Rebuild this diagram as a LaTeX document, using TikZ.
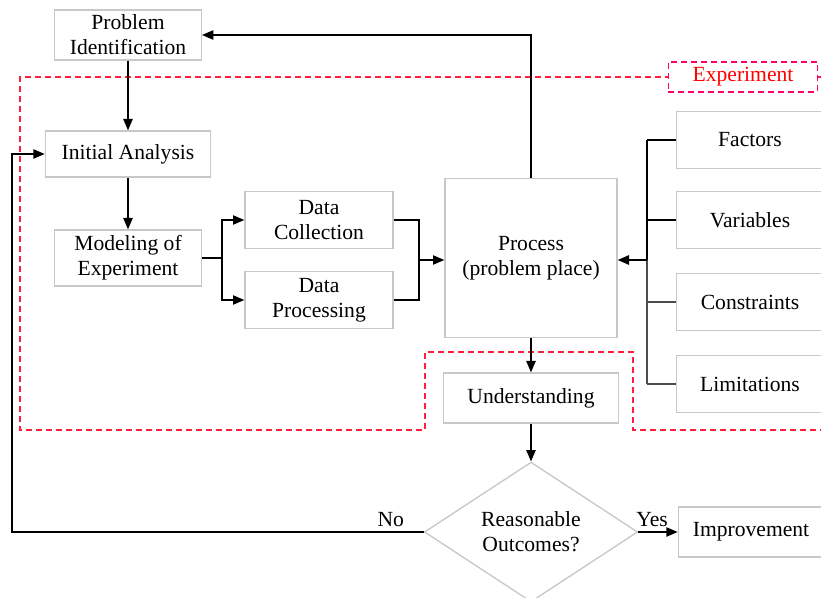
\documentclass[tikz,border=0pt]{standalone}
\usepackage{fontspec}
\setmainfont{Liberation Serif}
\usepackage{xcolor}
\usetikzlibrary{arrows.meta,positioning,shapes.geometric,calc}

\definecolor{boxgray}{RGB}{200,200,200}
\definecolor{expred}{RGB}{255,30,60}
\definecolor{labpink}{RGB}{255,0,110}

\begin{document}
\begin{tikzpicture}[
  x=0.75pt, y=-0.75pt,
  >={Triangle[length=8.5pt,width=7pt]},
  every node/.style={font=\fontsize{16.2}{18.75}\selectfont},
  box/.style={draw=boxgray, line width=1pt, fill=white, align=center, inner sep=2pt},
  decide/.style={diamond, draw=boxgray, line width=1pt, fill=white, align=center,
    minimum width=160pt, minimum height=104pt, inner sep=0pt},
  flow/.style={->, line width=1pt},
  link/.style={line width=1pt},
  frame/.style={expred, line width=0.9pt, dash pattern=on 4.5pt off 3pt},
]
\path[use as bounding box, fill=white] (0,0) rectangle (821,598);

% Experiment boundary
\draw[frame] (821,77) -- (20,77) -- (20,430) -- (425,430) -- (425,352)
  -- (633,352) -- (633,430) -- (821,430);
\node[draw=labpink, fill=white, line width=0.9pt, dash pattern=on 4.5pt off 3pt,
  text=red, minimum width=112pt, minimum height=22.5pt] (explabel) at (743,77) {Experiment};

% Main flow
\node[box, minimum width=110pt, minimum height=37.5pt] (probid) at (128,35) {Problem\\Identification};
\node[box, minimum width=124pt, minimum height=34.5pt] (initial) at (128,154) {Initial Analysis};
\node[box, minimum width=110pt, minimum height=42pt] (modeling) at (128,258) {Modeling of\\Experiment};
\node[box, minimum width=111pt, minimum height=43pt] (datacol) at (319,220) {Data\\Collection};
\node[box, minimum width=111pt, minimum height=43pt] (dataproc) at (319,300) {Data\\Processing};
\node[box, minimum width=129pt, minimum height=119pt] (process) at (531,258) {Process\\(problem place)};
\node[box, minimum width=131pt, minimum height=37.5pt] (underst) at (531,398) {Understanding};
\node[decide] (outcome) at (531,532) {Reasonable\\Outcomes?};
\node[box, minimum width=109pt, minimum height=37.5pt] (improve) at (751,532) {Improvement};

% Inputs to the process
\node[box, minimum width=110pt, minimum height=43pt] (factors) at (750,140) {Factors};
\node[box, minimum width=110pt, minimum height=43pt] (variables) at (750,220) {Variables};
\node[box, minimum width=110pt, minimum height=43pt] (constraints) at (750,302) {Constraints};
\node[box, minimum width=110pt, minimum height=43pt] (limits) at (750,384) {Limitations};

% Junction points
\coordinate (split) at (222,258);
\coordinate (merge) at (419,260);
\coordinate (bus) at (647,260);
\coordinate (loop) at (12,532);

% Connectors
\draw[flow] (probid) -- (initial);
\draw[flow] (initial) -- (modeling);
\draw[link] (modeling.east) -- (split);
\draw[flow] (split) |- (datacol.west);
\draw[flow] (split) |- (dataproc.west);
\draw[link] (datacol.east) -| (merge);
\draw[link] (dataproc.east) -| (merge);
\draw[flow] (merge) -- (merge -| process.west);
\draw[flow] (process.north) |- (probid.east);
\draw[flow] (process) -- (underst);
\draw[flow] (underst) -- (outcome);
\draw[flow] (outcome.east) -- node[above, pos=0.35] {Yes} (improve.west);
\draw[flow] (outcome.west) -- node[above, pos=0.08] {No} (loop) |- (initial.west);

% Right bus
\draw[link] (factors.west) -- (factors.west -| bus);
\draw[link] (variables.west) -- (variables.west -| bus);
\draw[link, black!70] (constraints.west) -- (constraints.west -| bus);
\draw[link, black!70] (limits.west) -- (limits.west -| bus);
\draw[link] (bus |- factors.west) -- (bus);
\draw[link, black!70] (bus) -- (bus |- limits.west);
\draw[flow, line width=1.3pt] (bus) -- (bus -| process.east);
\end{tikzpicture}
\end{document}
